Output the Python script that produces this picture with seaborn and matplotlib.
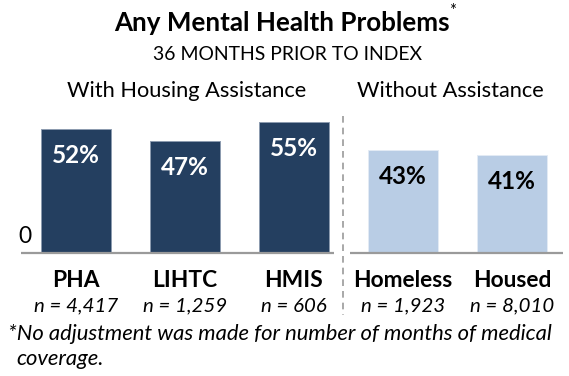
import matplotlib
matplotlib.use("Agg")
import matplotlib.pyplot as plt
import matplotlib.transforms as mtransforms
import seaborn as sns
import pandas as pd

# ---- data ----
categories = ["PHA", "LIHTC", "HMIS", "Homeless", "Housed"]
values = [52, 47, 55, 43, 41]
n_labels = ["n = 4,417", "n = 1,259", "n = 606", "n = 1,923", "n = 8,010"]
groups = ["With", "With", "With", "Without", "Without"]
title = "Any Mental Health Problems"
subtitle = "36 MONTHS PRIOR TO INDEX"
group_titles = ["With Housing Assistance", "Without Assistance"]
footnote1 = "*No adjustment was made for number of months of medical"
footnote2 = "coverage."

DARK = "#243F60"
LIGHT = "#B9CDE5"
group_color = {"With": DARK, "Without": LIGHT}
colors = [group_color[g] for g in groups]

sns.set_theme(style="white")
plt.rcParams["font.family"] = ["Lato", "DejaVu Sans"]

W, H = 569, 376
fig = plt.figure(figsize=(W / 100, H / 100), dpi=100)
renderer = fig.canvas.get_renderer()

# axes: y 0 at pixel 252.7 from top, 2.38 px per unit
base_px = 252.7
ppu = 2.38
ymax = 60
ax = fig.add_axes([0, (H - base_px) / H, 1, ymax * ppu / H])

df = pd.DataFrame({"cat": categories, "val": values})
sns.barplot(data=df, x="cat", y="val", hue="cat",
            palette=dict(zip(categories, colors)), dodge=False,
            width=0.64, legend=False, ax=ax, saturation=1)

# bar spacing 109.1 px, first center at 75.7 px
sp, c0 = 109.1, 75.7
ax.set_xlim(-c0 / sp, (W - c0) / sp)
ax.set_ylim(0, ymax)
ax.axis("off")

for p, g in zip(ax.patches, groups):
    p.set_edgecolor("#8c9bb0" if g == "With" else "#e3ebf5")
    p.set_linewidth(0.7)

# baselines and divider
def dx(px):
    return (px - c0) / sp
def dy(py):
    return (base_px - py) / ppu

ax.plot([dx(21), dx(334)], [0, 0], color="#9a9a9a", lw=1.6,
        solid_capstyle="butt", clip_on=False)
ax.plot([dx(350), dx(563)], [0, 0], color="#9a9a9a", lw=1.6,
        solid_capstyle="butt", clip_on=False)
ax.plot([dx(342.7), dx(342.7)], [dy(116), dy(315)], color="#9a9a9a",
        lw=1.2, ls=(0, (4, 3)), clip_on=False)

def fit(t, target):
    w = t.get_window_extent(renderer).width
    t.set_fontsize(t.get_fontsize() * target / w)
    return t.get_fontsize()

def ftxt(x, y, s, **kw):
    return fig.text(x / W, 1 - y / H, s, **kw)

# bar value labels
lab_size = None
for i, (p, g) in enumerate(zip(ax.patches, groups)):
    t = ax.annotate(f"{values[i]}%",
                    (p.get_x() + p.get_width() / 2, p.get_height()),
                    xytext=(0, -34), textcoords="offset pixels",
                    ha="center", va="baseline", fontweight="bold",
                    color="white" if g == "With" else "black", fontsize=16)
    if lab_size is None:
        lab_size = fit(t, 48)
    else:
        t.set_fontsize(lab_size)

# titles
t = ftxt(282, 30.7, title, ha="center", va="baseline", fontweight="bold",
         fontsize=16, color="black")
fit(t, 336)
ftxt(453, 16, "*", ha="center", va="baseline", fontsize=12, color="black")
t = ftxt(288, 60, subtitle, ha="center", va="baseline", fontsize=13,
         color="black")
fit(t, 270)
t1 = ftxt(186.5, 96.7, group_titles[0], ha="center", va="baseline",
          fontsize=14, color="black")
gsize = fit(t1, 240)
ftxt(450.5, 96.7, group_titles[1], ha="center", va="baseline",
     fontsize=gsize, color="black")
ftxt(32, 243.3, "0", ha="right", va="baseline", fontsize=gsize * 1.05,
     color="black")

# category labels and n labels
blend = mtransforms.blended_transform_factory(ax.transData, fig.transFigure)
csize = nsize = None
for i, (c, n) in enumerate(zip(categories, n_labels)):
    tc = ax.text(i, 1 - 286.7 / H, c, transform=blend, ha="center",
                 va="baseline", fontweight="bold", fontsize=14, color="black")
    tn = ax.text(i, 1 - 311.7 / H, n, transform=blend, ha="center",
                 va="baseline", style="italic", fontsize=13, color="black")
    if c == "Homeless":
        csize = fit(tc, 100)
    if i == 0:
        nsize = fit(tn, 84)
for t in ax.texts:
    if t.get_text() in categories:
        t.set_fontsize(csize)
    elif t.get_text() in n_labels:
        t.set_fontsize(nsize)

# footnote
f1 = ftxt(8.3, 340, footnote1, ha="left", va="baseline", style="italic",
          fontsize=14, color="black")
fsize = fit(f1, 547)
ftxt(16.7, 365, footnote2, ha="left", va="baseline", style="italic",
     fontsize=fsize, color="black")

fig.savefig("out.png", dpi=100)
